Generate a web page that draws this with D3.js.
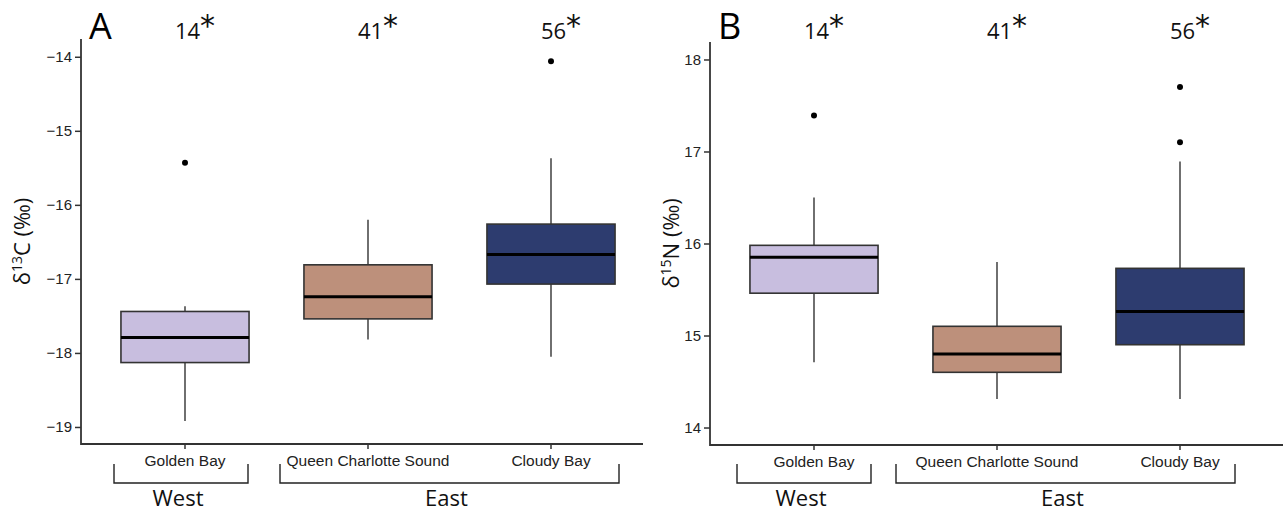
<!DOCTYPE html>
<html><head><meta charset="utf-8">
<script src="https://cdn.jsdelivr.net/npm/d3@7"></script>
<style>body{margin:0;background:#fff}svg{display:block}</style>
</head><body><svg id="c" width="1283" height="511"></svg>
<script>
const sites = ["Golden Bay", "Queen Charlotte Sound", "Cloudy Bay"];
const counts = ["14", "41", "56"];
const colors = ["#c8bedf", "#bd907b", "#2d3c6f"];
// [lowerWhisker, q1, median, q3, upperWhisker]
const carbonStats = [
  [-18.92, -18.13, -17.79, -17.44, -17.37],
  [-17.82, -17.54, -17.24, -16.81, -16.20],
  [-18.05, -17.07, -16.67, -16.26, -15.37]
];
const carbonOutliers = [[-15.43], [], [-14.06]];
const nitrogenStats = [
  [14.71, 15.46, 15.85, 15.98, 16.50],
  [14.31, 14.60, 14.80, 15.10, 15.80],
  [14.31, 14.90, 15.26, 15.73, 16.89]
];
const nitrogenOutliers = [[17.39], [], [17.70, 17.10]];
const carbonTicks = [-19, -18, -17, -16, -15, -14];
const nitrogenTicks = [14, 15, 16, 17, 18];
const groups = [{name: "West", from: 0, to: 0}, {name: "East", from: 1, to: 2}];

const svg = d3.select("#c");
const axisColor = "#333";

function panel(o) {
  const g = svg.append("g");
  const x = d3.scaleBand().domain(sites).range([o.bandL, o.bandR]).padding(0);
  const y = d3.scaleLinear().domain(o.domain).range([o.bottom, o.top]);
  const bw = x.bandwidth() * 0.7;
  g.append("line").attr("x1", o.axisX).attr("x2", o.axisX).attr("y1", o.top).attr("y2", o.bottom + 1)
    .attr("stroke", axisColor).attr("stroke-width", 1.8);
  g.append("line").attr("x1", o.axisX).attr("x2", o.axisR).attr("y1", o.bottom).attr("y2", o.bottom)
    .attr("stroke", axisColor).attr("stroke-width", 1.8);
  const yAxis = d3.axisLeft(y).tickValues(o.ticks).tickSize(6).tickPadding(3).tickFormat(d3.format("d"));
  const ya = g.append("g").attr("transform", `translate(${o.axisX},0)`).call(yAxis);
  ya.select(".domain").remove();
  ya.selectAll("line").attr("stroke", axisColor).attr("stroke-width", 1.5);
  ya.selectAll("text").attr("font-family", "Liberation Sans, Arial, sans-serif").attr("font-size", 15).attr("fill", "#222");
  const xAxis = d3.axisBottom(x).tickSize(5).tickPadding(6);
  const xa = g.append("g").attr("transform", `translate(0,${o.bottom})`).call(xAxis);
  xa.select(".domain").remove();
  xa.selectAll("line").attr("stroke", axisColor).attr("stroke-width", 1.5);
  xa.selectAll("text").attr("font-family", "Liberation Sans, Arial, sans-serif").attr("font-size", 15.5).attr("fill", "#222");

  o.stats.forEach((s, i) => {
    const cx = x(sites[i]) + x.bandwidth() / 2;
    const bg = g.append("g");
    bg.append("line").attr("x1", cx).attr("x2", cx).attr("y1", y(s[0])).attr("y2", y(s[1]))
      .attr("stroke", "#333").attr("stroke-width", 1.4);
    bg.append("line").attr("x1", cx).attr("x2", cx).attr("y1", y(s[3])).attr("y2", y(s[4]))
      .attr("stroke", "#333").attr("stroke-width", 1.4);
    bg.append("rect").attr("x", cx - bw / 2).attr("width", bw)
      .attr("y", y(s[3])).attr("height", y(s[1]) - y(s[3]))
      .attr("fill", colors[i]).attr("stroke", "#333").attr("stroke-width", 1.6);
    bg.append("line").attr("x1", cx - bw / 2).attr("x2", cx + bw / 2).attr("y1", y(s[2])).attr("y2", y(s[2]))
      .attr("stroke", "#000").attr("stroke-width", 3);
    o.outliers[i].forEach(v => {
      bg.append("circle").attr("cx", cx).attr("cy", y(v)).attr("r", 3).attr("fill", "#000");
    });
    const t = g.append("text").attr("x", cx + 10).attr("y", 39).attr("text-anchor", "middle")
      .attr("font-family", "Open Sans, Noto Sans, sans-serif").attr("font-size", 22).attr("fill", "#111");
    t.append("tspan").text(counts[i]);
    t.append("tspan").attr("dy", -3).attr("font-size", 30).attr("font-family", "DejaVu Sans, sans-serif").text("*");
  });

  g.append("text").attr("x", o.letterX).attr("y", 39).attr("font-family", "Open Sans, Noto Sans, sans-serif")
    .attr("font-size", 36).attr("fill", "#000").text(o.letter);

  const yl = g.append("text").attr("transform", `translate(${o.labelX},${(o.top + o.bottom) / 2}) rotate(-90)`)
    .attr("text-anchor", "middle").attr("font-family", "Open Sans, Noto Sans, sans-serif")
    .attr("font-size", 22).attr("fill", "#111");
  yl.append("tspan").text("δ");
  yl.append("tspan").attr("font-size", 14).attr("dy", -8).text(o.iso);
  yl.append("tspan").attr("dy", 8).text(o.el + " (‰)");

  groups.forEach((gr, k) => {
    const l = o.brackets[k][0], r = o.brackets[k][1];
    g.append("path").attr("d", `M${l},${464}V${483}H${r}V${464}`)
      .attr("fill", "none").attr("stroke", "#222").attr("stroke-width", 1.4);
    g.append("text").attr("x", (l + r) / 2 - 3).attr("y", 506).attr("text-anchor", "middle")
      .attr("font-family", "Open Sans, Noto Sans, sans-serif").attr("font-size", 22).attr("fill", "#111").text(gr.name);
  });
}

panel({
  letter: "A", letterX: 89, iso: "13", el: "C", labelX: 30,
  axisX: 81, axisR: 643, bandL: 93.5, bandR: 642.5,
  top: 39, bottom: 444, domain: [-19.23, -13.76], ticks: carbonTicks,
  stats: carbonStats, outliers: carbonOutliers,
  brackets: [[114, 248], [280, 619]]
});
panel({
  letter: "B", letterX: 718, iso: "15", el: "N", labelX: 679,
  axisX: 710, axisR: 1283, bandL: 722.5, bandR: 1271.5,
  top: 42, bottom: 445, domain: [13.81, 18.19], ticks: nitrogenTicks,
  stats: nitrogenStats, outliers: nitrogenOutliers,
  brackets: [[737, 871], [896, 1235]]
});
</script></body></html>
